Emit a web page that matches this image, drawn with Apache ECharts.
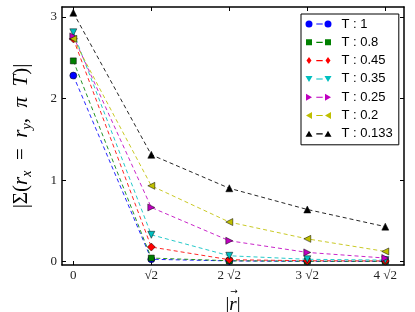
<!DOCTYPE html>
<html><head><meta charset="utf-8">
<script src="https://cdn.jsdelivr.net/npm/echarts@6/dist/echarts.min.js"></script>
<style>html,body{margin:0;padding:0;background:#fff}#c{width:415px;height:312px}</style>
</head><body><div id="c"></div>
<script>
// x positions in units of sqrt(2)
const xMult = [0, 1, 2, 3, 4];
const xTickLabels = ['0', '√2', '2 √2', '3 √2', '4 √2'];
const yTicks = [0, 1, 2, 3];
const temps = ['T : 1', 'T : 0.8', 'T : 0.45', 'T : 0.35', 'T : 0.25', 'T : 0.2', 'T : 0.133'];
const sT1    = [2.28, 0.03, 0.01, 0.005, 0.005];
const sT08   = [2.46, 0.045, 0.012, 0.006, 0.005];
const sT045  = [2.73, 0.18, 0.025, 0.012, 0.01];
const sT035  = [2.81, 0.33, 0.073, 0.03, 0.02];
const sT025  = [2.76, 0.665, 0.257, 0.114, 0.045];
const sT02   = [2.73, 0.93, 0.486, 0.28, 0.126];
const sT0133 = [3.05, 1.31, 0.90, 0.64, 0.43];
const seriesValues = [sT1, sT08, sT045, sT035, sT025, sT02, sT0133];
const colors = ['#0000ff', '#008000', '#ff0000', '#00bfbf', '#bf00bf', '#bfbf00', '#000000'];
const symbols = ['circle', 'rect', 'diamond', 'triangle', 'triangle', 'triangle', 'triangle'];
const rotations = [0, 0, 0, 180, -90, 90, 0];
const sizes = [7, 6, 8, 7, 7, 7, 7];

// legend icons: marker - dash - marker
function mk(shape, ox) {
  const p = (x, y) => (x + ox) + ',' + y;
  switch (shape) {
    case 0: return 'M' + p(0, 3.5) + ' A3.5,3.5 0 1,0 ' + p(7, 3.5) + ' A3.5,3.5 0 1,0 ' + p(0, 3.5) + ' Z';
    case 1: return 'M' + p(0.5, 0.5) + ' L' + p(6.5, 0.5) + ' L' + p(6.5, 6.5) + ' L' + p(0.5, 6.5) + ' Z';
    case 2: return 'M' + p(3.5, 0) + ' L' + p(6, 3.5) + ' L' + p(3.5, 7) + ' L' + p(1, 3.5) + ' Z';
    case 3: return 'M' + p(0, 0.5) + ' L' + p(7, 0.5) + ' L' + p(3.5, 6.5) + ' Z';
    case 4: return 'M' + p(0.5, 0) + ' L' + p(6.5, 3.5) + ' L' + p(0.5, 7) + ' Z';
    case 5: return 'M' + p(6.5, 0) + ' L' + p(0.5, 3.5) + ' L' + p(6.5, 7) + ' Z';
    default: return 'M' + p(0, 6.5) + ' L' + p(7, 6.5) + ' L' + p(3.5, 0.5) + ' Z';
  }
}
function icon(i) {
  const frame = 'M0,0 L0.01,0 L0.01,0.01 Z M26,7 L25.99,7 L25.99,6.99 Z ';
  return 'path://' + frame + mk(i, 0) + ' M10.8,3 L17.2,3 L17.2,4.1 L10.8,4.1 Z ' + mk(i, 19);
}

const series = seriesValues.map((vals, i) => ({
  name: temps[i],
  type: 'line',
  data: xMult.map((x, j) => [x, vals[j]]),
  symbol: symbols[i],
  symbolRotate: rotations[i],
  symbolSize: sizes[i],
  showSymbol: true,
  color: colors[i],
  lineStyle: { type: [4, 3], width: 1, color: colors[i], opacity: 0.85 },
  itemStyle: { color: colors[i], borderColor: '#000', borderWidth: 0.5, opacity: 1 },
  emphasis: { disabled: true },
  animation: false,
  z: 2 + i
}));

const serif = 'Liberation Serif';
const xCommon = { type: 'value', min: -0.145, max: 4.24, splitLine: { show: false },
  axisLine: { onZero: false, lineStyle: { color: '#000', width: 1.5 } } };
const yCommon = { type: 'value', min: -0.04, max: 3.12, splitLine: { show: false },
  axisLine: { onZero: false, lineStyle: { color: '#000', width: 1.5 } } };

const option = {
  backgroundColor: '#fff',
  animation: false,
  grid: { left: 62, right: 11, top: 7, bottom: 47, containLabel: false, outerBoundsMode: 'none' },
  legend: {
    orient: 'vertical', left: 301, top: 14,
    padding: [3, 6, 4, 4.5],
    itemWidth: 26, itemHeight: 7, itemGap: 4.3,
    backgroundColor: '#fff', borderColor: '#000', borderWidth: 1, borderRadius: 0,
    textStyle: { fontFamily: 'Liberation Sans', fontSize: 13, color: '#000', lineHeight: 14, padding: [0, 0, 0, 5] },
    itemStyle: { borderWidth: 0 },
    selectedMode: false,
    data: temps.map((t, i) => ({ name: t, icon: icon(i), itemStyle: { color: colors[i], borderWidth: 0 } }))
  },
  xAxis: [
    Object.assign({}, xCommon, {
      position: 'bottom',
      name: '{a|→}\n{n||}{i|r}{n||}', nameLocation: 'middle', nameGap: 24,
      nameTextStyle: { align: 'center', verticalAlign: 'top', rich: {
        a: { fontFamily: 'DejaVu Sans', fontSize: 9, color: '#000', lineHeight: 6, align: 'center', padding: [0, 0, 0, 2] },
        n: { fontFamily: serif, fontSize: 19, color: '#000', lineHeight: 20, align: 'center' },
        i: { fontFamily: serif, fontSize: 19, fontStyle: 'italic', color: '#000', lineHeight: 20, align: 'center' } } },
      axisTick: { inside: true, length: 4, lineStyle: { color: '#000' }, customValues: xMult },
      axisLabel: { customValues: xMult, margin: 4, fontFamily: serif, fontSize: 13, color: '#222',
        formatter: v => xTickLabels[xMult.indexOf(Math.round(v))] }
    }),
    Object.assign({}, xCommon, {
      position: 'top',
      axisTick: { inside: true, length: 4, lineStyle: { color: '#000' }, customValues: xMult },
      axisLabel: { show: false }
    })
  ],
  yAxis: [
    Object.assign({}, yCommon, {
      position: 'left',
      name: '{n||Σ(}{i|r}{s|x}{n|  =  }{i|r}{s|y}{n|,  }{i|π  T}{n|)|}',
      nameLocation: 'middle', nameGap: 28, nameRotate: 90,
      nameTextStyle: { rich: {
        n: { fontFamily: serif, fontSize: 21, color: '#000', lineHeight: 26 },
        i: { fontFamily: serif, fontSize: 21, fontStyle: 'italic', color: '#000', lineHeight: 26 },
        s: { fontFamily: serif, fontSize: 14, fontStyle: 'italic', color: '#000', lineHeight: 15, verticalAlign: 'bottom' } } },
      axisTick: { inside: true, length: 4, lineStyle: { color: '#000' }, customValues: yTicks },
      axisLabel: { customValues: yTicks, margin: 5, fontFamily: serif, fontSize: 13, color: '#222' }
    }),
    Object.assign({}, yCommon, {
      position: 'right',
      axisTick: { inside: true, length: 4, lineStyle: { color: '#000' }, customValues: yTicks },
      axisLabel: { show: false }
    })
  ],
  series: series
};
const chart = echarts.init(document.getElementById('c'), null, { renderer: 'canvas' });
chart.setOption(option);
</script></body></html>
